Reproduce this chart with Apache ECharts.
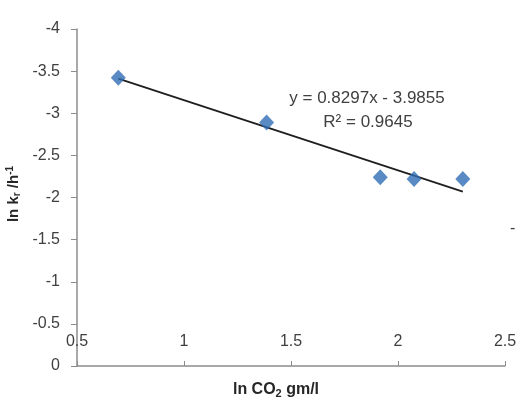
<!DOCTYPE html>
<html>
<head>
<meta charset="utf-8">
<script src="https://cdn.jsdelivr.net/npm/echarts@6/dist/echarts.min.js"></script>
<style>
  html, body { margin: 0; padding: 0; background: #fff; }
  #chart { width: 528px; height: 404px; }
</style>
</head>
<body>
<div id="chart"></div>
<script>
// 数据点 (ln CO2, ln kr)
var lnCO2 = [0.693, 1.386, 1.917, 2.075, 2.303];
var lnKr = [-3.42, -2.89, -2.24, -2.22, -2.22];
// 趋势线两端
var trendX = [0.693, 2.303];
var trendY = [-3.41, -2.07];
var xTicks = [0.5, 1, 1.5, 2, 2.5];
var yTicks = [-4, -3.5, -3, -2.5, -2, -1.5, -1, -0.5, 0];
var eqText = "y = 0.8297x - 3.9855";
var r2Text = "R\u00b2 = 0.9645";

var font = "'Liberation Sans', 'DejaVu Sans', sans-serif";
var axisColor = "#8c8c8c";
var textColor = "#404040";

var myChart = echarts.init(document.getElementById("chart"));
var option = {
  animation: false,
  grid: { left: 77, right: 23, top: 29, bottom: 38, containLabel: false },
  xAxis: {
    type: "value",
    min: xTicks[0],
    max: xTicks[xTicks.length - 1],
    interval: 0.5,
    axisLine: { onZero: false, lineStyle: { color: axisColor, width: 1.5 } },
    // 刻度朝内
    axisTick: { show: true, inside: true, length: 5, lineStyle: { color: axisColor } },
    axisLabel: {
      inside: true,
      margin: 16,
      color: textColor,
      fontSize: 16,
      fontFamily: font,
      formatter: function (v) { return String(v); }
    },
    splitLine: { show: false }
  },
  yAxis: {
    type: "value",
    inverse: true,
    min: yTicks[0],
    max: yTicks[yTicks.length - 1],
    interval: 0.5,
    axisLine: { show: true, lineStyle: { color: axisColor, width: 1.5 } },
    axisTick: { show: true, length: 6, lineStyle: { color: axisColor } },
    axisLabel: {
      margin: 17,
      color: textColor,
      fontSize: 16,
      fontFamily: font,
      formatter: function (v) { return String(v); }
    },
    splitLine: { show: false }
  },
  series: [
    {
      type: "line",
      data: trendX.map(function (x, i) { return [x, trendY[i]]; }),
      symbol: "none",
      lineStyle: { color: "#1f1f1f", width: 1.8 },
      z: 2
    },
    {
      type: "scatter",
      data: lnCO2.map(function (x, i) { return [x, lnKr[i]]; }),
      symbol: "diamond",
      symbolSize: [15, 16],
      itemStyle: { color: "#2f6db4" },
      z: 3
    }
  ],
  graphic: [
    {
      type: "text",
      x: 367, y: 98,
      style: {
        text: eqText, align: "center", verticalAlign: "middle",
        fill: textColor, font: "17px " + font
      }
    },
    {
      type: "text",
      x: 368, y: 122,
      style: {
        text: r2Text, align: "center", verticalAlign: "middle",
        fill: textColor, font: "17px " + font
      }
    },
    {
      type: "text",
      x: 276, y: 390,
      style: {
        text: "ln CO{s|2} gm/l", align: "center", verticalAlign: "middle",
        fill: "#262626", font: "bold 16px " + font,
        rich: { s: { font: "bold 11px " + font, fill: "#262626", padding: [8, 0, 0, 0] } }
      }
    },
    {
      type: "text",
      x: 14, y: 194,
      rotation: Math.PI / 2,
      style: {
        text: "ln k{s|r} /h{p|-1}", align: "center", verticalAlign: "middle",
        fill: "#262626", font: "bold 15px " + font,
        rich: {
          s: { font: "bold 10px " + font, fill: "#262626", padding: [7, 0, 0, 0] },
          p: { font: "bold 10px " + font, fill: "#262626", padding: [0, 0, 8, 0] }
        }
      }
    },
    {
      type: "text",
      x: 510, y: 221,
      style: { text: "-", fill: textColor, font: "16px " + font }
    }
  ]
};
myChart.setOption(option);
</script>
</body>
</html>
